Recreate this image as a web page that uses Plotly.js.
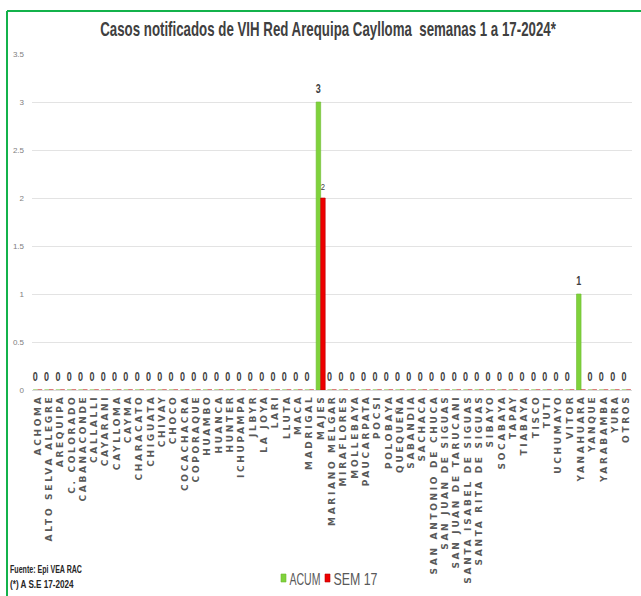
<!DOCTYPE html>
<html>
<head>
<meta charset="utf-8">
<script src="https://cdn.plot.ly/plotly-3.0.1.min.js"></script>
<style>
  html, body { margin: 0; padding: 0; background: #fff; }
  #chart { width: 641px; height: 596px; }
  .xtick text { letter-spacing: 2.7px; }
</style>
</head>
<body>
<div id="chart"></div>
<script>
const categories = [
  "ACHOMA", "ALTO SELVA ALEGRE", "AREQUIPA", "C. COLORADO", "CABANACONDE",
  "CALLALLI", "CAYARANI", "CAYLLOMA", "CAYMA", "CHARACATO", "CHIGUATA",
  "CHIVAY", "CHOCO", "COCACHACRA", "COPORAQUE", "HUAMBO", "HUANCA", "HUNTER",
  "ICHUPAMPA", "JLBYR", "LA JOYA", "LARI", "LLUTA", "MACA", "MADRIGAL",
  "MAJES", "MARIANO MELGAR", "MIRAFLORES", "MOLLEBAYA", "PAUCARPATA", "POCSI",
  "POLOBAYA", "QUEQUEÑA", "SABANDIA", "SACHACA", "SAN ANTONIO DE CHUCA",
  "SAN JUAN DE SIGUAS", "SAN JUAN DE TARUCANI", "SANTA ISABEL DE SIGUAS",
  "SANTA RITA DE SIGUAS", "SIBAYO", "SOCABAYA", "TAPAY", "TIABAYA", "TISCO",
  "TUTI", "UCHUMAYO", "VITOR", "YANAHUARA", "YANQUE", "YARABAMBA", "YURA",
  "OTROS"
];
const acum = [
  0, 0, 0, 0, 0, 0, 0, 0, 0, 0, 0, 0, 0, 0, 0, 0, 0, 0, 0, 0, 0, 0, 0, 0, 0,
  3, 0, 0, 0, 0, 0, 0, 0, 0, 0, 0, 0, 0, 0, 0, 0, 0, 0, 0, 0, 0, 0, 0,
  1, 0, 0, 0, 0
];
const sem17 = [
  0, 0, 0, 0, 0, 0, 0, 0, 0, 0, 0, 0, 0, 0, 0, 0, 0, 0, 0, 0, 0, 0, 0, 0, 0,
  2, 0, 0, 0, 0, 0, 0, 0, 0, 0, 0, 0, 0, 0, 0, 0, 0, 0, 0, 0, 0, 0, 0,
  0, 0, 0, 0, 0
];
const seriesNames = ["ACUM", "SEM 17"];
const titleText = "Casos notificados de VIH Red Arequipa Caylloma  semanas 1 a 17-2024*";
const notes = ["Fuente: Epi VEA RAC", "(*) A S.E 17-2024"];

const sans = "'Liberation Sans', Arial, sans-serif";
const wide = "'DejaVu Sans', sans-serif";

const traces = [
  {
    type: "bar", name: seriesNames[0], x: categories, y: acum,
    marker: { color: "#7fd23c", line: { color: "#6cbb2d", width: 0.6 } },
    text: acum.map(String), textposition: "outside", cliponaxis: false,
    constraintext: "none",
    textfont: { family: sans, size: 12, color: "#404040", weight: "bold" },
    hoverinfo: "x+y"
  },
  {
    type: "bar", name: seriesNames[1], x: categories, y: sem17,
    marker: { color: "#ee0000", line: { color: "#b80000", width: 0.6 } },
    text: sem17.map(v => v ? String(v) : ""), textposition: "outside", cliponaxis: false,
    constraintext: "none",
    textfont: { family: sans, size: 9, color: "#404040" },
    hoverinfo: "x+y"
  }
];

const L = 32, R = 9, T = 54, B = 206;
const W = 641, H = 596;
const pw = W - L - R, ph = H - T - B;
const px = v => (v - L) / pw;
const py = v => (H - B - v) / ph;

const layout = {
  width: W, height: H,
  margin: { l: L, r: R, t: T, b: B, pad: 0, autoexpand: false },
  paper_bgcolor: "#ffffff", plot_bgcolor: "#ffffff",
  barmode: "group", bargap: 0.2, bargroupgap: 0,
  title: {
    text: titleText,
    font: { family: sans, size: 20, color: "#404040", weight: "bold" },
    x: 328 / W, xref: "container", xanchor: "center",
    y: 1 - 29 / H, yref: "container", yanchor: "middle"
  },
  xaxis: {
    type: "category", tickangle: -90,
    tickfont: { family: wide, size: 9, color: "#595959", weight: "bold" },
    showgrid: false, showline: true, linecolor: "#d9d9d9", linewidth: 1,
    ticks: "", zeroline: false, automargin: false
  },
  yaxis: {
    range: [0, 3.5], dtick: 0.5, tick0: 0,
    tickfont: { family: sans, size: 8, color: "#808080" },
    showgrid: true, gridcolor: "#e3e3e3", gridwidth: 1,
    zeroline: false, showline: false, ticks: "", ticklabelstandoff: 7,
    automargin: false
  },
  showlegend: true,
  legend: {
    orientation: "h", x: 0.5, xanchor: "center", xref: "paper",
    y: 1 - 578 / H, yref: "container", yanchor: "middle",
    font: { family: sans, size: 17, color: "#595959" },
    itemwidth: 30, traceorder: "normal", bgcolor: "rgba(0,0,0,0)"
  },
  annotations: [
    { text: "<b>" + notes[0] + "</b>", xref: "paper", yref: "paper",
      x: px(8), y: py(569), xanchor: "left", yanchor: "middle", showarrow: false,
      font: { family: sans, size: 10, color: "#262626" } },
    { text: "<b>" + notes[1] + "</b>", xref: "paper", yref: "paper",
      x: px(8), y: py(584), xanchor: "left", yanchor: "middle", showarrow: false,
      font: { family: sans, size: 10, color: "#262626" } }
  ],
  shapes: [
    { type: "line", xref: "paper", yref: "paper", x0: px(7), x1: px(W + 2), y0: py(11), y1: py(11),
      line: { color: "#13b24b", width: 2 } },
    { type: "line", xref: "paper", yref: "paper", x0: px(7), x1: px(7), y0: py(11), y1: py(H + 2),
      line: { color: "#13b24b", width: 2 } }
  ]
};

function squeezeTo(el, targetW, anchor) {
  if (!el) return;
  const b = el.getBBox();
  if (!b.width) return;
  const sx = targetW / b.width;
  const ax = anchor === "left" ? b.x : anchor === "right" ? b.x + b.width : b.x + b.width / 2;
  const t = el.getAttribute("transform") || "";
  el.setAttribute("transform", (t + " translate(" + ax + ",0) scale(" + sx + ",1) translate(" + (-ax) + ",0)").trim());
}
function squeezeBy(el, sx, dy) {
  const b = el.getBBox();
  const ax = b.x + b.width / 2;
  const t = el.getAttribute("transform") || "";
  el.setAttribute("transform", (t + " translate(" + ax + "," + dy + ") scale(" + sx + ",1) translate(" + (-ax) + ",0)").trim());
}
function parseTranslate(s) {
  const m = /translate\(\s*([-\d.e]+)[ ,]+([-\d.e]+)\s*\)/.exec(s || "");
  return m ? [parseFloat(m[1]), parseFloat(m[2])] : [0, 0];
}

Plotly.newPlot("chart", traces, layout, { displayModeBar: false, staticPlot: true }).then(gd => {
  squeezeTo(gd.querySelector(".gtitle"), 456, "center");

  const ann = gd.querySelectorAll(".annotation-text");
  const annW = [72, 64];
  ann.forEach((el, i) => squeezeTo(el, annW[i], "left"));

  // data labels: narrower and lifted a little above the bars
  const traceGroups = gd.querySelectorAll(".barlayer .trace");
  traceGroups.forEach((tg, i) => {
    tg.querySelectorAll("text.bartext").forEach(el => {
      if (el.textContent) squeezeBy(el, i === 0 ? 0.75 : 0.85, -6);
    });
  });

  const groups = gd.querySelectorAll(".legend .traces");
  const symTargetX = [283.5, 327.5];
  const txtW = [31, 44];
  const rootRect = gd.getBoundingClientRect();
  groups.forEach((g, i) => {
    const p = g.querySelector(".legendpoints path");
    if (p) p.setAttribute("d", "M2.5,4H-2.5V-4H2.5Z");
    const t = g.querySelector(".legendtext");
    if (t) { t.setAttribute("x", 26); squeezeTo(t, txtW[i], "left"); }
    if (p) {
      const r = p.getBoundingClientRect();
      const cx = r.left + r.width / 2 - rootRect.left;
      const cy = r.top + r.height / 2 - rootRect.top;
      const tr = parseTranslate(g.getAttribute("transform"));
      g.setAttribute("transform", "translate(" + (tr[0] + symTargetX[i] - cx) + "," + (tr[1] + 578 - cy) + ")");
    }
  });
});
</script>
</body>
</html>
